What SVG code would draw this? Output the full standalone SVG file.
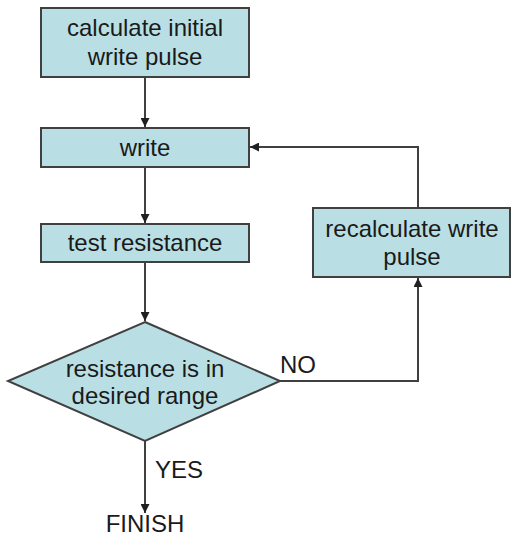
<svg xmlns="http://www.w3.org/2000/svg" width="512" height="539" viewBox="0 0 512 539">
<style>
.box{fill:#b9dfe4;stroke:#404040;stroke-width:2}
.t{font-family:"Liberation Sans",Arial,sans-serif;font-size:24px;fill:#1a1a1a;text-anchor:middle}
.l{font-family:"Liberation Sans",Arial,sans-serif;font-size:24px;fill:#1a1a1a}
.c{fill:none;stroke:#404040;stroke-width:2}
</style>
<defs>
<marker id="ah" viewBox="0 0 10 10" refX="10" refY="5" markerWidth="4.5" markerHeight="4.5" orient="auto" markerUnits="strokeWidth">
<path d="M0,0 L10,5 L0,10 z" fill="#202020"/>
</marker>
</defs>
<rect width="512" height="539" fill="#ffffff"/>
<g id="connectors">
<line class="c" x1="145" y1="77" x2="145" y2="127" marker-end="url(#ah)"/>
<line class="c" x1="145" y1="167" x2="145" y2="223" marker-end="url(#ah)"/>
<line class="c" x1="145" y1="262" x2="145" y2="321" marker-end="url(#ah)"/>
<polyline class="c" points="280,381 418,381 418,278" marker-end="url(#ah)"/>
<polyline class="c" points="418,208 418,147 250,147" marker-end="url(#ah)"/>
<line class="c" x1="145" y1="441" x2="145" y2="513" marker-end="url(#ah)"/>
<text class="l" x="280" y="373">NO</text>
<text class="l" x="155" y="478">YES</text>
</g>
<g id="calc">
<rect class="box" x="41" y="8" width="208" height="69"/>
<text class="t" x="145" y="36">calculate initial</text>
<text class="t" x="145" y="65">write pulse</text>
</g>
<g id="write">
<rect class="box" x="41" y="128" width="208" height="39"/>
<text class="t" x="145" y="156">write</text>
</g>
<g id="test">
<rect class="box" x="41" y="224" width="208" height="38"/>
<text class="t" x="145" y="251">test resistance</text>
</g>
<g id="recalc">
<rect class="box" x="313" y="208" width="197" height="69"/>
<text class="t" x="412" y="237">recalculate write</text>
<text class="t" x="412" y="265">pulse</text>
</g>
<g id="decision">
<polygon class="box" points="145,322 280,381 145,441 8,381"/>
<text class="t" x="145" y="377">resistance is in</text>
<text class="t" x="145" y="404">desired range</text>
</g>
<g id="finish">
<text class="t" x="145" y="532">FINISH</text>
</g>
</svg>
